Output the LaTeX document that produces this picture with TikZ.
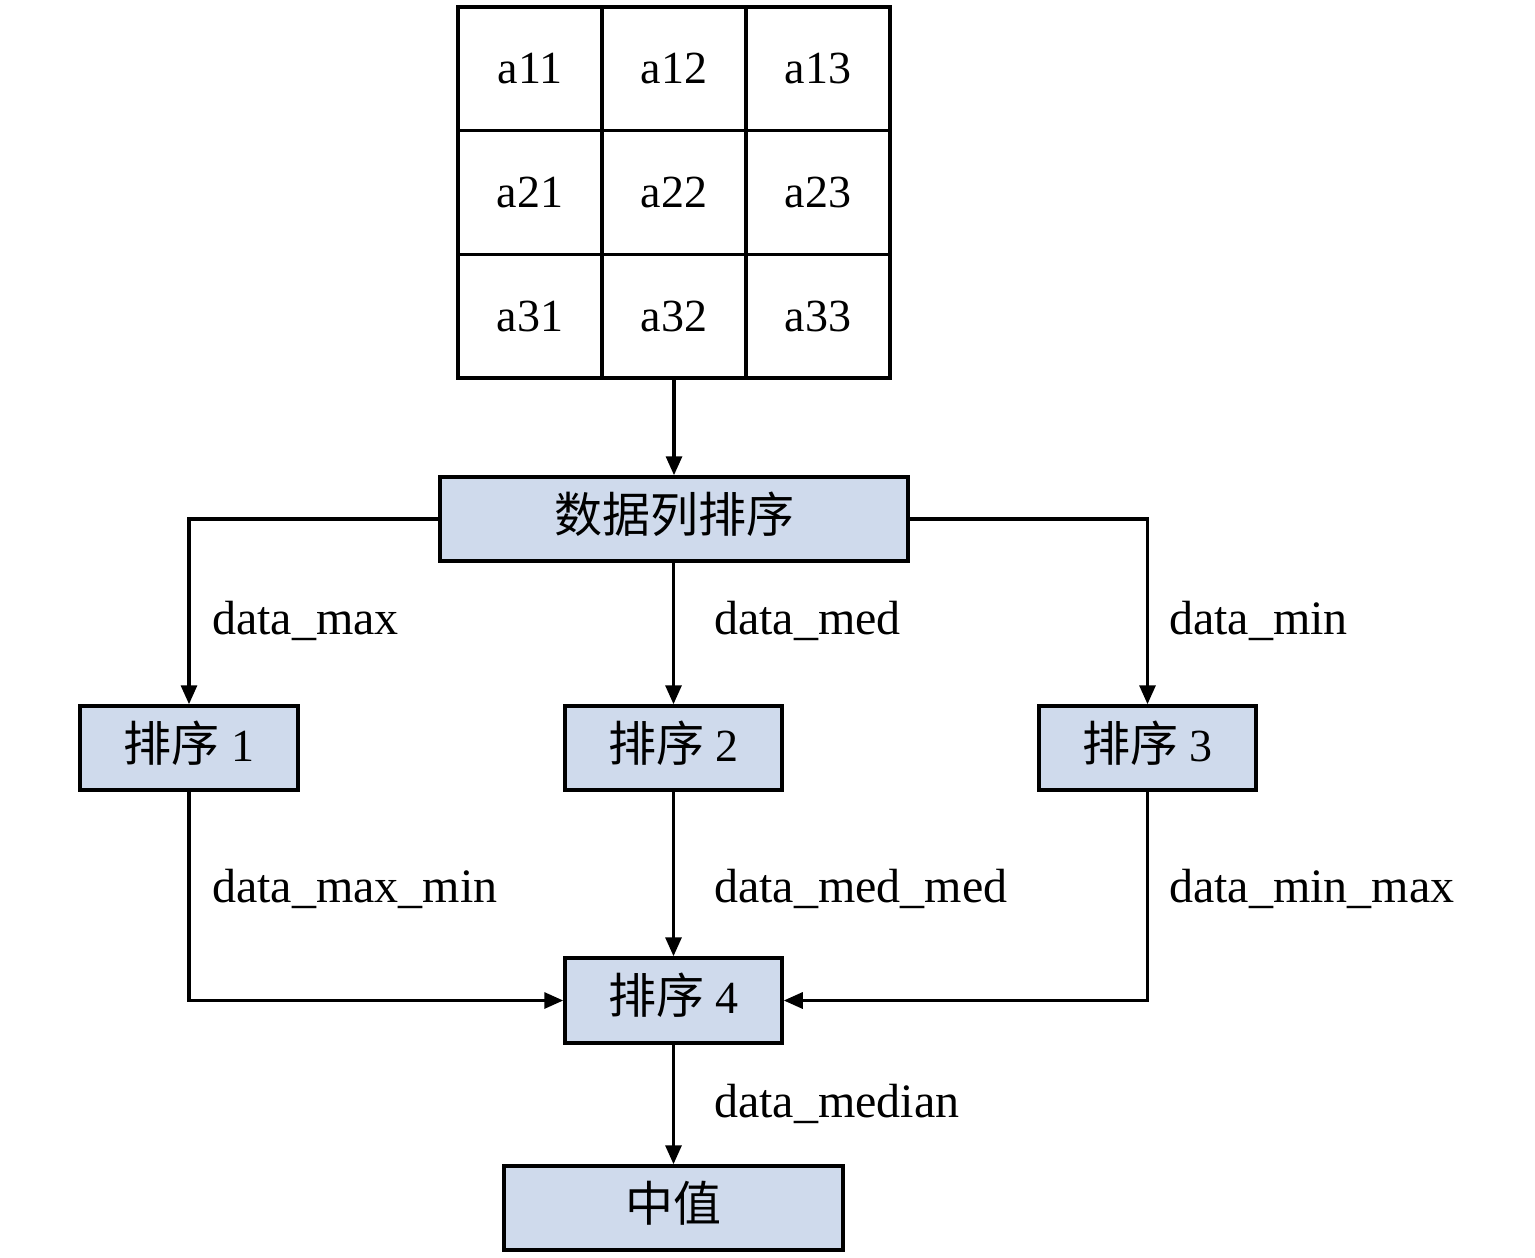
\documentclass[tikz,border=0pt]{standalone}
\usepackage{fontspec}
\setmainfont{Liberation Serif}
\newfontfamily\cjk{Noto Sans CJK SC}
\usetikzlibrary{arrows.meta}
\definecolor{boxfill}{RGB}{207,218,236}
\newcommand{\uptext}[1]{\raisebox{0pt}[\height][\dimexpr\depth+10pt\relax]{#1}}
\begin{document}
\begin{tikzpicture}[x=1pt,y=-1pt,
  cell/.style={draw,line width=3.5pt,minimum width=144pt,minimum height=123.7pt,inner sep=0pt,font=\fontsize{46}{50}\selectfont},
  proc/.style={draw,line width=3.5pt,fill=boxfill,inner sep=0pt,font=\fontsize{46}{50}\selectfont},
  conn/.style={line width=3.2pt,-{Triangle[length=19pt,width=16pt]}},
  lbl/.style={anchor=base west,inner sep=0pt,font=\fontsize{48}{52}\selectfont}]
\useasboundingbox (0,0) rectangle (1535,1258);
% grid
\foreach \r/\y in {1/68.85,2/192.55,3/316.25}{
  \foreach \c/\x in {1/530,2/674,3/818}{
    \node[cell] (c\r\c) at (\x,\y) {a\r\c};
  }
}
% boxes
\node[proc,minimum width=468pt,minimum height=84pt] (sort) at (674,519) {\uptext{\cjk\fontsize{48}{52}\selectfont 数据列排序}};
\node[proc,minimum width=218pt,minimum height=84pt] (s1) at (189,748) {\uptext{{\cjk\fontsize{48}{52}\selectfont 排序} 1}};
\node[proc,minimum width=217pt,minimum height=84pt] (s2) at (673.5,748) {\uptext{{\cjk\fontsize{48}{52}\selectfont 排序} 2}};
\node[proc,minimum width=217pt,minimum height=84pt] (s3) at (1147.5,748) {\uptext{{\cjk\fontsize{48}{52}\selectfont 排序} 3}};
\node[proc,minimum width=217pt,minimum height=85pt] (s4) at (673.5,1000.5) {\uptext{{\cjk\fontsize{48}{52}\selectfont 排序} 4}};
\node[proc,minimum width=339pt,minimum height=84pt] (med) at (673.5,1208) {\uptext{\cjk\fontsize{48}{52}\selectfont 中值}};
% connectors
\draw[conn] (c32.south -| sort.north) -- (sort.north);
\draw[conn] (sort.west) -| (s1.north);
\draw[conn] (sort.east) -| (s3.north);
\draw[conn] (sort.south -| s2.north) -- (s2.north);
\draw[conn] (s1.south) |- (s4.west);
\draw[conn] (s3.south) |- (s4.east);
\draw[conn] (s2.south) -- (s4.north);
\draw[conn] (s4.south) -- (med.north);
% labels
\node[lbl] (l1) at (212,634) {data\_max};
\node[lbl] (l2) at (714,634) {data\_med};
\node[lbl] (l3) at (1169,634) {data\_min};
\node[lbl] (l4) at (212,902) {data\_max\_min};
\node[lbl] (l5) at (714,902) {data\_med\_med};
\node[lbl] (l6) at (1169,902) {data\_min\_max};
\node[lbl] (l7) at (714,1117) {data\_median};
\end{tikzpicture}
\end{document}
